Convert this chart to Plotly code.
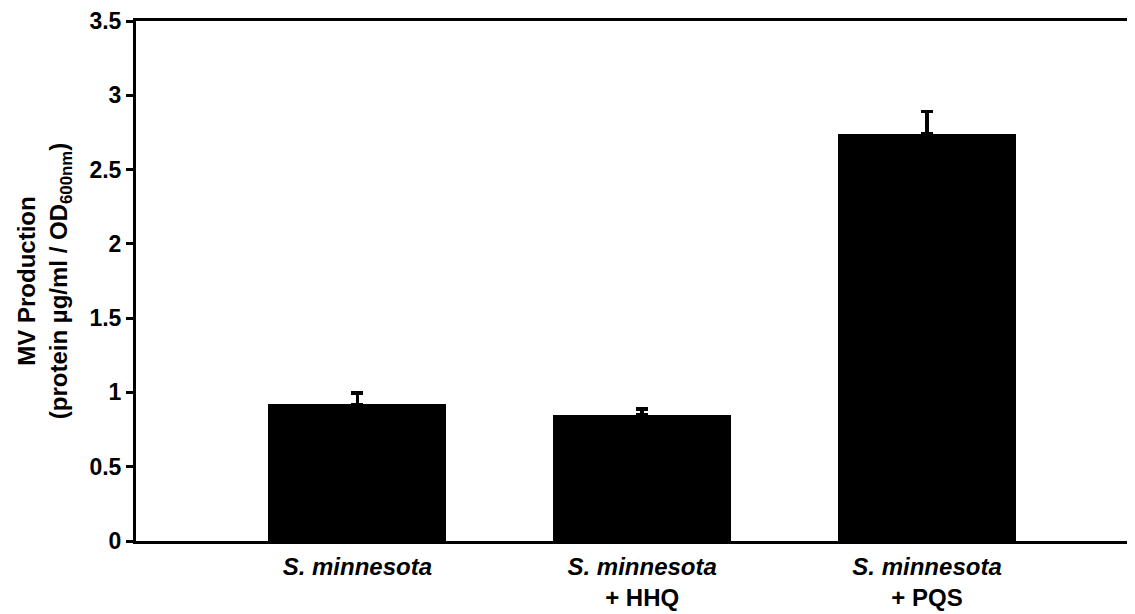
import plotly.graph_objects as go

categories = ["<i>S. minnesota</i>", "<i>S. minnesota</i><br>+ HHQ", "<i>S. minnesota</i><br>+ PQS"]
values = [0.92, 0.85, 2.74]
errors = [0.075, 0.04, 0.15]
y_ticks = [0, 0.5, 1, 1.5, 2, 2.5, 3, 3.5]
y_tick_labels = ["0", "0.5", "1", "1.5", "2", "2.5", "3", "3.5"]

FONT = "Arial, Liberation Sans, sans-serif"

fig = go.Figure()
fig.add_trace(go.Bar(
    x=[0, 1, 2], y=values, width=0.625,
    marker=dict(color="black", line=dict(width=0)),
    error_y=dict(type="data", symmetric=False, array=errors, arrayminus=[0, 0, 0],
                 color="black", thickness=3.5, width=6),
))

fig.update_layout(
    template="none",
    width=1127, height=606,
    margin=dict(l=128, r=0, t=13, b=73, autoexpand=False),
    plot_bgcolor="white", paper_bgcolor="white",
    showlegend=False,
    font=dict(family=FONT, color="black"),
    bargap=0,
)
fig.update_xaxes(
    automargin=False,
    range=[-0.777, 2.73],
    tickmode="array", tickvals=[0, 1, 2], ticktext=categories,
    tickfont=dict(size=24, family=FONT, weight="bold"),
    ticks="", showline=True, linecolor="black", linewidth=3, mirror=True,
    showgrid=False, zeroline=False, ticklabelstandoff=2,
)
fig.update_yaxes(
    automargin=False,
    range=[0, 3.5],
    tickmode="array", tickvals=y_ticks, ticktext=y_tick_labels,
    tickfont=dict(size=23, family=FONT, weight="bold"),
    ticks="outside", ticklen=7, tickwidth=3, tickcolor="black",
    showline=True, linecolor="black", linewidth=3,
    showgrid=False, zeroline=False, ticklabeloverflow="allow",
    title=dict(text="MV Production<br>(protein µg/ml / OD<sub>600nm</sub>)",
               font=dict(size=24, family=FONT, weight="bold"), standoff=16),
)

fig.write_html("out.html")
